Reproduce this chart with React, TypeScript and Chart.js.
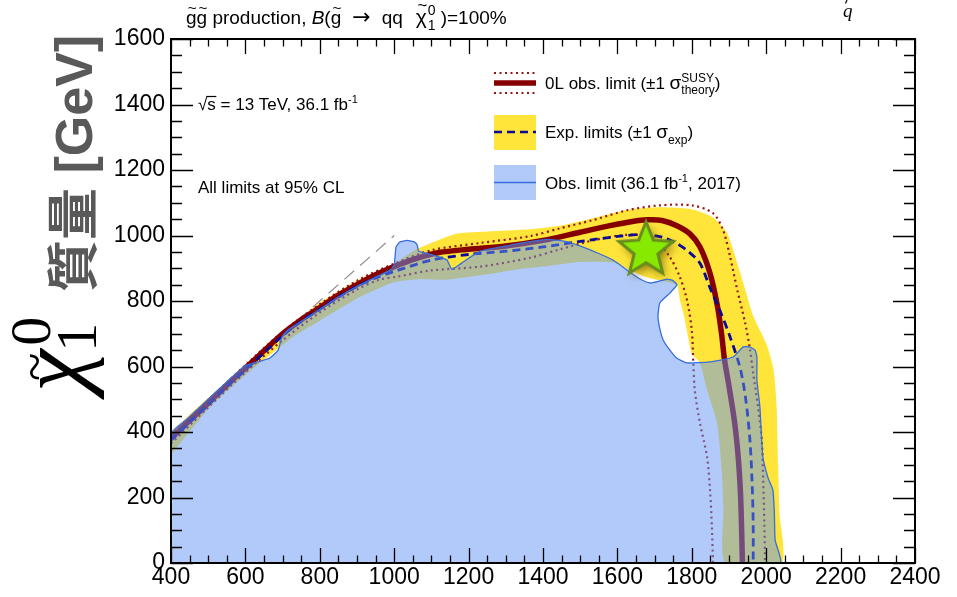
import React, { useEffect, useRef } from 'react';
import { Chart, registerables } from 'chart.js';

Chart.register(...registerables);

// ---------------- data ----------------
const xMin = 400;
const xMax = 2400;
const yMin = 0;
const yMax = 1600;
const tickStep = 200;
const minorStep = 50;

// Observed limit (0L, thick dark red)
const obsLimitX = [400, 450, 500, 550, 600, 650, 700, 750, 800, 850, 900, 950, 1000, 1060, 1120, 1200, 1300, 1400, 1500, 1580, 1640, 1680, 1720, 1760, 1795, 1822, 1849, 1868, 1880, 1888, 1900, 1915, 1925, 1931, 1934, 1936];
const obsLimitY = [380, 435, 488, 543, 595, 648, 700, 743, 780, 818, 850, 880, 905, 930, 948, 958, 968, 985, 1010, 1030, 1043, 1048, 1046, 1030, 1005, 965, 885, 790, 700, 620, 540, 430, 320, 210, 100, 0];

// Observed +1 sigma theory (dotted)
const obsUpX = [400, 500, 600, 700, 800, 900, 1000, 1100, 1230, 1365, 1446, 1534, 1626, 1714, 1800, 1857, 1884, 1903, 1922, 1943, 1956, 1965, 1978, 1988, 1992, 1995, 1997];
const obsUpY = [390, 497, 604, 706, 790, 862, 914, 955, 977, 998, 1022, 1047, 1077, 1092, 1092, 1068, 1017, 935, 835, 735, 655, 580, 477, 376, 250, 120, 0];

// Observed -1 sigma theory (dotted)
const obsDownX = [400, 500, 600, 700, 800, 900, 960, 1012, 1096, 1231, 1365, 1446, 1534, 1626, 1696, 1741, 1768, 1787, 1800, 1804, 1808, 1822, 1841, 1849, 1854, 1857];
const obsDownY = [365, 475, 582, 680, 765, 835, 865, 875, 893, 905, 932, 958, 985, 1002, 993, 934, 873, 803, 711, 611, 528, 427, 324, 223, 110, 0];

// Expected limit (dashed navy)
const expLimitX = [400, 450, 500, 550, 600, 650, 700, 750, 800, 850, 900, 950, 1000, 1100, 1200, 1300, 1400, 1500, 1600, 1670, 1720, 1760, 1790, 1822, 1849, 1876, 1903, 1930, 1945, 1956, 1962, 1965, 1965];
const expLimitY = [375, 430, 483, 538, 590, 642, 694, 738, 775, 812, 845, 870, 890, 925, 942, 952, 965, 982, 997, 1003, 995, 975, 952, 915, 840, 770, 690, 595, 500, 380, 250, 120, 0];

// Expected +-1 sigma band: outer edge then inner edge
const bandOuterX = [400, 486, 594, 700, 800, 900, 1000, 1060, 1123, 1170, 1250, 1350, 1446, 1534, 1626, 1714, 1800, 1857, 1895, 1930, 1965, 2002, 2020, 2028, 2032, 2036, 2042];
const bandOuterY = [400, 490, 597, 705, 795, 862, 915, 958, 988, 1006, 1012, 1018, 1030, 1053, 1078, 1086, 1080, 1055, 1008, 888, 755, 665, 590, 480, 300, 150, 0];
const bandInnerX = [1890, 1885, 1881, 1868, 1841, 1822, 1800, 1790, 1780, 1768, 1760, 1720, 1680, 1634, 1588, 1500, 1400, 1320, 1240, 1140, 1060, 1000, 908, 800, 728, 594, 505, 400];
const bandInnerY = [0, 170, 275, 427, 528, 611, 640, 690, 750, 803, 849, 862, 872, 893, 918, 919, 905, 895, 880, 865, 866, 858, 812, 740, 690, 568, 476, 330];

// Previous observed limit (36.1 fb-1, 2017), closed region
const prevLimitX = [400, 400, 450, 500, 550, 600, 620, 645, 666, 688, 698, 715, 750, 800, 850, 900, 950, 990, 1000, 1005, 1015, 1035, 1055, 1062, 1066, 1090, 1120, 1142, 1155, 1180, 1231, 1319, 1411, 1460, 1499, 1550, 1588, 1634, 1660, 1688, 1710, 1733, 1750, 1760, 1741, 1714, 1709, 1715, 1723, 1741, 1760, 1787, 1849, 1911, 1938, 1955, 1970, 1975, 1975, 1983, 1991, 2005, 2018, 2022, 2024, 2037, 400];
const prevLimitY = [0, 392, 447, 500, 553, 603, 610, 618, 626, 650, 690, 712, 738, 775, 812, 845, 873, 895, 912, 965, 980, 985, 980, 970, 952, 945, 935, 925, 897, 915, 952, 972, 988, 982, 968, 945, 925, 888, 868, 855, 860, 867, 862, 849, 824, 794, 751, 710, 681, 650, 625, 611, 614, 629, 660, 660, 650, 629, 559, 477, 324, 260, 223, 150, 70, 0, 0];

// Kinematic limit m(chi) = m(gluino)
const diagX = [400, 1000];
const diagY = [400, 1000];

// Benchmark point (star)
const starX = [1677];
const starY = [955];

// ---------------- helpers ----------------
const pts = (xs: number[], ys: number[]) => xs.map((x, i) => ({ x, y: ys[i] }));

const SANS = '"Liberation Sans", Arial, Helvetica, sans-serif';
const SERIF = '"Liberation Serif", "DejaVu Serif", serif';

const RED = 'rgb(135,0,0)';
const DOT_RED = 'rgb(150,20,20)';
const NAVY = 'rgb(10,10,150)';
const YELLOW = 'rgb(255,229,58)';
const BLUE_FILL = 'rgba(100,150,245,0.5)';
const BLUE_LINE = 'rgb(55,110,220)';

type Run = {
  t: string;
  size?: number;
  dy?: number;
  style?: string;
  family?: string;
  tilde?: boolean;
  stack?: [string, string];
  gap?: number;
};

function drawRuns(ctx: CanvasRenderingContext2D, x0: number, y: number, runs: Run[], baseSize: number) {
  let x = x0;
  for (const r of runs) {
    if (r.gap) {
      x += r.gap;
      continue;
    }
    const size = r.size ?? baseSize;
    const fam = r.family ?? SANS;
    if (r.stack) {
      ctx.font = `${size}px ${fam}`;
      const [sup, sub] = r.stack;
      ctx.fillText(sup, x, y - size * 0.62);
      ctx.fillText(sub, x, y + size * 0.45);
      x += Math.max(ctx.measureText(sup).width, ctx.measureText(sub).width);
      continue;
    }
    ctx.font = `${r.style ?? ''} ${size}px ${fam}`;
    ctx.fillText(r.t, x, y + (r.dy ?? 0));
    const w = ctx.measureText(r.t).width;
    if (r.tilde) {
      const ts = size * 0.8;
      ctx.font = `${ts}px ${SANS}`;
      const tw = ctx.measureText('~').width;
      ctx.fillText('~', x + w / 2 - tw / 2 + 1, y - size * 0.6);
    }
    x += w;
  }
  return x;
}

function makeStar(): HTMLCanvasElement {
  const c = document.createElement('canvas');
  c.width = 84;
  c.height = 84;
  const g = c.getContext('2d')!;
  const cx = 42, cy = 42, R = 28.5, r = 12.5;
  g.beginPath();
  for (let i = 0; i < 10; i++) {
    const rad = i % 2 === 0 ? R : r;
    const a = -Math.PI / 2 + (i * Math.PI) / 5;
    const px = cx + rad * Math.cos(a);
    const py = cy + rad * Math.sin(a);
    if (i === 0) g.moveTo(px, py);
    else g.lineTo(px, py);
  }
  g.closePath();
  g.save();
  g.shadowColor = 'rgba(110,90,0,0.75)';
  g.shadowBlur = 10;
  g.shadowOffsetX = 3;
  g.shadowOffsetY = 4;
  g.fillStyle = 'rgb(135,232,0)';
  g.fill();
  g.restore();
  g.lineJoin = 'miter';
  g.lineWidth = 3;
  g.strokeStyle = 'rgb(105,140,30)';
  g.stroke();
  return c;
}

const decorPlugin = {
  id: 'decor',
  afterDraw(chart: any) {
    const ctx: CanvasRenderingContext2D = chart.ctx;
    const { left, right, top, bottom } = chart.chartArea;
    const xs = chart.scales.x;
    const ys = chart.scales.y;
    ctx.save();

    // frame
    ctx.strokeStyle = '#000';
    ctx.lineWidth = 2;
    ctx.strokeRect(left, top, right - left, bottom - top);

    // inward ticks
    ctx.lineWidth = 1.3;
    ctx.beginPath();
    for (let v = xMin; v <= xMax; v += minorStep) {
      const p = Math.round(xs.getPixelForValue(v)) + 0.5;
      const L = v % tickStep === 0 ? 15 : 7.5;
      ctx.moveTo(p, bottom);
      ctx.lineTo(p, bottom - L);
      ctx.moveTo(p, top);
      ctx.lineTo(p, top + L);
    }
    for (let v = yMin; v <= yMax; v += minorStep) {
      const p = Math.round(ys.getPixelForValue(v)) + 0.5;
      const L = v % tickStep === 0 ? 22 : 11;
      ctx.moveTo(left, p);
      ctx.lineTo(left + L, p);
      ctx.moveTo(right, p);
      ctx.lineTo(right - L, p);
    }
    ctx.stroke();

    ctx.fillStyle = '#000';
    ctx.textBaseline = 'alphabetic';
    ctx.textAlign = 'left';

    // top title
    drawRuns(ctx, 186, 24, [
      { t: 'g', tilde: true },
      { t: 'g', tilde: true },
      { t: ' production, ' },
      { t: 'B', style: 'italic' },
      { t: '(' },
      { t: 'g', tilde: true },
      { t: '', gap: 11 },
      { t: '\u2192', family: '"DejaVu Sans", sans-serif', size: 22 },
      { t: '', gap: 11 },
      { t: 'qq' },
      { t: '', gap: 13 },
      { t: '\u03C7', tilde: true, size: 21 },
      { t: '', gap: 1 },
      { t: '', stack: ['0', '1'], size: 14 },
      { t: '', gap: 5 },
      { t: ')=100%' },
    ], 19);

    // cut caption piece top right
    ctx.font = `italic 19px ${SERIF}`;
    ctx.fillText('q', 843, 17);
    ctx.lineWidth = 1.2;
    ctx.beginPath();
    ctx.moveTo(847, 0);
    ctx.lineTo(845.5, 3.5);
    ctx.stroke();

    // sqrt(s) label
    const sx = 198, sy = 110;
    ctx.font = `17px ${SANS}`;
    const wRoot = ctx.measureText('\u221A').width;
    const wS = ctx.measureText('s').width;
    drawRuns(ctx, sx, sy, [
      { t: '\u221As = 13 TeV, 36.1 fb' },
      { t: '-1', size: 11, dy: -7 },
    ], 17);
    ctx.lineWidth = 1.2;
    ctx.beginPath();
    ctx.moveTo(sx + wRoot - 1, sy - 13.5);
    ctx.lineTo(sx + wRoot + wS + 0.5, sy - 13.5);
    ctx.stroke();

    drawRuns(ctx, 198, 193, [{ t: 'All limits at 95% CL' }], 17);

    // legend
    const lx0 = 494, lx1 = 536, tx = 545;
    // row 1
    ctx.save();
    ctx.strokeStyle = RED;
    ctx.lineWidth = 5.5;
    ctx.beginPath();
    ctx.moveTo(lx0, 83);
    ctx.lineTo(lx1, 83);
    ctx.stroke();
    ctx.strokeStyle = DOT_RED;
    ctx.lineWidth = 2;
    ctx.setLineDash([2, 3.5]);
    ctx.beginPath();
    ctx.moveTo(lx0, 73);
    ctx.lineTo(lx1, 73);
    ctx.moveTo(lx0, 93);
    ctx.lineTo(lx1, 93);
    ctx.stroke();
    ctx.restore();
    drawRuns(ctx, tx, 89, [
      { t: '0L obs. limit (\u00B11 ' },
      { t: '\u03C3', size: 19 },
      { t: '', stack: ['SUSY', 'theory'], size: 12 },
      { t: ')' },
    ], 17);

    // row 2
    ctx.fillStyle = YELLOW;
    ctx.fillRect(lx0, 115, lx1 - lx0, 35);
    ctx.save();
    ctx.strokeStyle = NAVY;
    ctx.lineWidth = 2.5;
    ctx.setLineDash([8, 5]);
    ctx.beginPath();
    ctx.moveTo(lx0, 132);
    ctx.lineTo(lx1, 132);
    ctx.stroke();
    ctx.restore();
    ctx.fillStyle = '#000';
    drawRuns(ctx, tx, 138, [
      { t: 'Exp. limits (\u00B11 ' },
      { t: '\u03C3', size: 19 },
      { t: 'exp', size: 12, dy: 6 },
      { t: ')' },
    ], 17);

    // row 3
    ctx.fillStyle = BLUE_FILL;
    ctx.fillRect(lx0, 165, lx1 - lx0, 35);
    ctx.strokeStyle = BLUE_LINE;
    ctx.lineWidth = 1.5;
    ctx.beginPath();
    ctx.moveTo(lx0, 182.5);
    ctx.lineTo(lx1, 182.5);
    ctx.stroke();
    ctx.fillStyle = '#000';
    drawRuns(ctx, tx, 189, [
      { t: 'Obs. limit (36.1 fb' },
      { t: '-1', size: 11, dy: -7 },
      { t: ', 2017)' },
    ], 17);

    // y axis title (rotated)
    ctx.save();
    ctx.translate(86, 392);
    ctx.rotate(-Math.PI / 2);
    ctx.fillStyle = '#000';
    ctx.font = `italic 96px ${SERIF}`;
    ctx.fillText('\u03C7', 0, -2);
    const cw = ctx.measureText('\u03C7').width;
    ctx.font = `52px ${SERIF}`;
    const tw = ctx.measureText('~').width;
    ctx.fillText('~', cw / 2 - tw / 2 + 4, -34);
    ctx.font = `58px ${SERIF}`;
    ctx.fillText('0', cw + 4, -36);
    ctx.fillText('1', cw - 2, 10);
    ctx.fillStyle = '#595959';
    ctx.font = `bold 52px ${SANS}, "Noto Sans CJK JP"`;
    ctx.fillText('\u8CEA\u91CF [GeV]', 100, 6);
    ctx.restore();

    ctx.restore();
  },
};

const plainTick = (v: any) => String(v);

export default function App() {
  const ref = useRef<HTMLCanvasElement | null>(null);

  useEffect(() => {
    if (!ref.current) return;
    const star = makeStar();
    const common = { pointRadius: 0, pointHoverRadius: 0, fill: false };
    const chart = new Chart(ref.current, {
      type: 'line',
      data: {
        datasets: [
          {
            ...common,
            label: 'Benchmark',
            data: pts(starX, starY),
            showLine: false,
            pointRadius: 30,
            pointStyle: star as any,
            order: 0,
          },
          {
            ...common,
            label: 'Obs. limit (36.1 fb-1, 2017)',
            data: pts(prevLimitX, prevLimitY),
            borderColor: BLUE_LINE,
            borderWidth: 1.3,
            backgroundColor: BLUE_FILL,
            fill: 'shape',
            tension: 0.15,
            order: 1,
          },
          {
            ...common,
            label: 'Exp. limit',
            data: pts(expLimitX, expLimitY),
            borderColor: NAVY,
            borderWidth: 2.8,
            borderDash: [8, 5],
            tension: 0.3,
            order: 2,
          },
          {
            ...common,
            label: '0L obs. limit',
            data: pts(obsLimitX, obsLimitY),
            borderColor: RED,
            borderWidth: 5.5,
            borderJoinStyle: 'round',
            tension: 0.3,
            order: 3,
          },
          {
            ...common,
            label: 'Obs +1 sigma',
            data: pts(obsUpX, obsUpY),
            borderColor: DOT_RED,
            borderWidth: 2.2,
            borderDash: [2, 3.5],
            tension: 0.3,
            order: 4,
          },
          {
            ...common,
            label: 'Obs -1 sigma',
            data: pts(obsDownX, obsDownY),
            borderColor: DOT_RED,
            borderWidth: 2.2,
            borderDash: [2, 3.5],
            tension: 0.3,
            order: 5,
          },
          {
            ...common,
            label: 'Exp band',
            data: pts(bandOuterX.concat(bandInnerX), bandOuterY.concat(bandInnerY)),
            borderWidth: 0,
            borderColor: 'rgba(0,0,0,0)',
            backgroundColor: YELLOW,
            fill: 'shape',
            tension: 0.2,
            order: 6,
          },
          {
            ...common,
            label: 'Kinematic limit',
            data: pts(diagX, diagY),
            borderColor: 'rgb(140,140,140)',
            borderWidth: 1.2,
            borderDash: [13, 8],
            order: 7,
          },
        ] as any,
      },
      options: {
        responsive: false,
        devicePixelRatio: 1,
        animation: false,
        events: [],
        layout: { padding: { top: 39, right: 42, left: 0, bottom: 0 } },
        plugins: {
          legend: { display: false },
          tooltip: { enabled: false },
          filler: { drawTime: 'beforeDatasetDraw' },
        } as any,
        scales: {
          x: {
            type: 'linear',
            min: xMin,
            max: xMax,
            afterFit: (s: any) => {
              s.height = 34;
            },
            grid: { display: false, drawTicks: false },
            border: { display: false },
            ticks: {
              stepSize: tickStep,
              autoSkip: false,
              maxRotation: 0,
              padding: 1,
              color: '#000',
              font: { family: SANS, size: 23 },
              callback: plainTick,
            },
          },
          y: {
            type: 'linear',
            min: yMin,
            max: yMax,
            afterFit: (s: any) => {
              s.width = 171;
            },
            grid: { display: false, drawTicks: false },
            border: { display: false },
            ticks: {
              stepSize: tickStep,
              padding: 6,
              color: '#000',
              font: { family: SANS, size: 23 },
              callback: plainTick,
            },
          },
        } as any,
      },
      plugins: [decorPlugin],
    });
    return () => chart.destroy();
  }, []);

  return (
    <div style={{ position: 'absolute', left: 0, top: 0, width: 957, height: 597, background: '#fff' }}>
      <canvas ref={ref} width={957} height={597} style={{ display: 'block' }} />
    </div>
  );
}
